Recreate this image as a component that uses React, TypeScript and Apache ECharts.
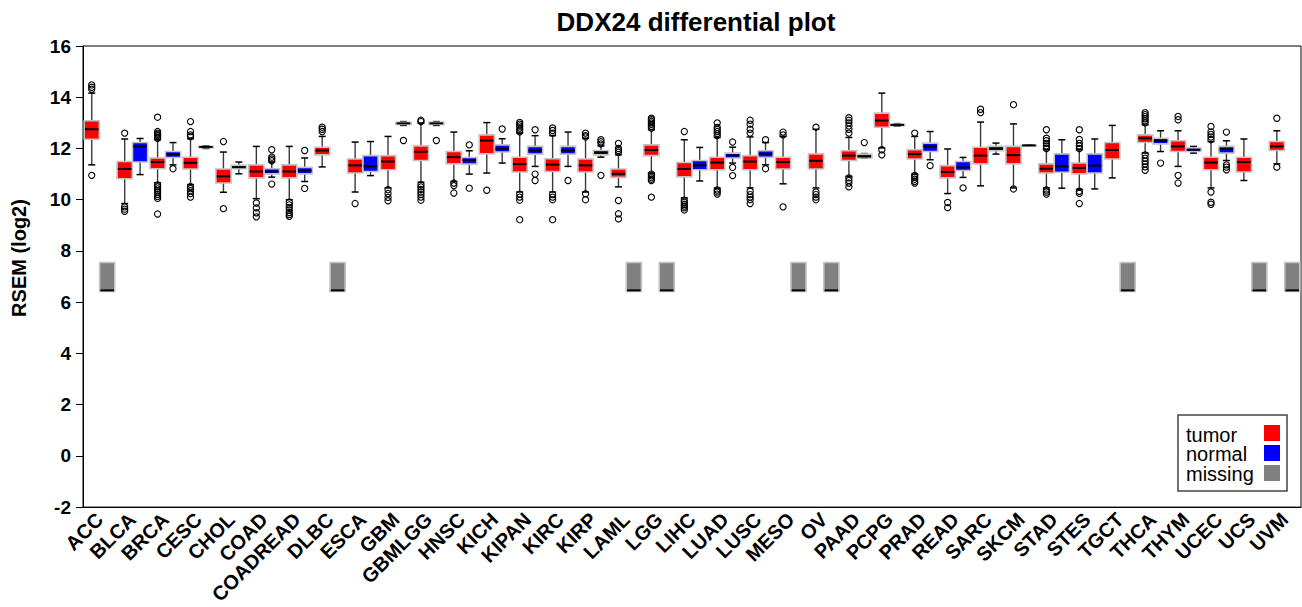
import React, { useEffect, useRef } from "react";
import * as echarts from "echarts";

const categories = [
  "ACC", "BLCA", "BRCA", "CESC", "CHOL", "COAD", "COADREAD", "DLBC", "ESCA", "GBM",
  "GBMLGG", "HNSC", "KICH", "KIPAN", "KIRC", "KIRP", "LAML", "LGG", "LIHC", "LUAD",
  "LUSC", "MESO", "OV", "PAAD", "PCPG", "PRAD", "READ", "SARC", "SKCM", "STAD",
  "STES", "TGCT", "THCA", "THYM", "UCEC", "UCS", "UVM",
];

// [lower whisker, Q1, median, Q3, upper whisker]
const tumorStats: number[][] = [
  [11.36, 12.36, 12.75, 13.08, 14.16], // ACC
  [9.85, 10.82, 11.2, 11.49, 12.37], // BLCA
  [10.66, 11.21, 11.47, 11.63, 12.34], // BRCA
  [10.59, 11.2, 11.44, 11.66, 12.38], // CESC
  [10.29, 10.65, 10.91, 11.2, 11.86], // CHOL
  [10.04, 10.85, 11.1, 11.36, 12.08], // COAD
  [10.0, 10.85, 11.1, 11.36, 12.08], // COADREAD
  [11.28, 11.75, 11.92, 12.05, 12.47], // DLBC
  [10.3, 11.04, 11.34, 11.59, 12.25], // ESCA
  [10.46, 11.17, 11.49, 11.72, 12.47], // GBM
  [10.68, 11.53, 11.87, 12.1, 12.99], // GBMLGG
  [10.71, 11.4, 11.66, 11.88, 12.64], // HNSC
  [11.04, 11.79, 12.31, 12.53, 13.01], // KICH
  [10.3, 11.08, 11.39, 11.66, 12.6], // KIPAN
  [10.3, 11.1, 11.37, 11.6, 12.5], // KIRC
  [10.3, 11.08, 11.34, 11.59, 12.4], // KIRP
  [10.5, 10.87, 11.01, 11.2, 11.75], // LAML
  [11.04, 11.72, 11.94, 12.14, 12.73], // LGG
  [10.07, 10.89, 11.2, 11.45, 12.34], // LIHC
  [10.45, 11.17, 11.45, 11.66, 12.43], // LUAD
  [10.46, 11.17, 11.49, 11.72, 12.45], // LUSC
  [10.62, 11.2, 11.47, 11.66, 12.47], // MESO
  [10.46, 11.2, 11.52, 11.79, 12.75], // OV
  [10.91, 11.53, 11.72, 11.91, 12.43], // PAAD
  [12.02, 12.83, 13.09, 13.38, 14.16], // PCPG
  [11.0, 11.59, 11.78, 11.95, 12.47], // PRAD
  [10.24, 10.85, 11.08, 11.33, 11.98], // READ
  [10.54, 11.4, 11.72, 12.05, 13.03], // SARC
  [10.46, 11.4, 11.74, 12.08, 12.96], // SKCM
  [10.46, 11.04, 11.21, 11.4, 11.95], // STAD
  [10.4, 11.01, 11.24, 11.43, 11.95], // STES
  [10.85, 11.59, 11.94, 12.23, 12.9], // TGCT
  [11.82, 12.23, 12.4, 12.53, 12.92], // THCA
  [11.3, 11.88, 12.08, 12.3, 12.69], // THYM
  [10.46, 11.17, 11.45, 11.66, 12.27], // UCEC
  [10.75, 11.08, 11.47, 11.66, 12.37], // UCS
  [11.4, 11.92, 12.08, 12.27, 12.69], // UVM
];

const tumorOutliers: number[][] = [
  [14.48, 14.39, 14.31, 10.95],
  [12.6, 9.72, 9.63, 9.55],
  [12.4, 12.45, 12.5, 12.55, 12.6, 12.66, 13.22, 10.58, 10.5, 10.42, 10.35, 10.28, 10.2, 10.12, 10.05, 9.44],
  [13.05, 12.66, 12.53, 12.46, 10.51, 10.43, 10.35, 10.24, 10.1],
  [12.27, 9.65],
  [9.87, 9.68, 9.49, 9.33],
  [9.9, 9.8, 9.7, 9.6, 9.5, 9.42, 9.35],
  [12.83, 12.75, 12.66],
  [9.85],
  [10.39, 10.24, 10.09, 9.96],
  [13.1, 13.05, 10.59, 10.5, 10.4, 10.3, 10.2, 10.1, 9.98],
  [10.65, 10.55, 10.26],
  [10.37],
  [12.65, 12.72, 12.8, 12.88, 12.95, 13.02, 10.22, 10.1, 9.98, 9.22],
  [12.6, 12.7, 12.8, 10.2, 10.1, 10.0, 9.22],
  [12.6, 12.5, 12.45, 10.23, 10.0],
  [12.2, 12.0, 11.92, 11.85, 9.97, 9.45, 9.25],
  [12.8, 12.87, 12.94, 13.0, 13.06, 13.12, 13.18, 11.0, 10.93, 10.86, 10.8, 10.75, 10.1],
  [12.66, 9.98, 9.9, 9.82, 9.75, 9.68, 9.6],
  [12.5, 12.58, 12.66, 12.74, 12.82, 13.0, 10.38, 10.3, 10.22],
  [12.6, 12.75, 12.95, 13.1, 10.33, 10.2, 10.1, 10.0, 9.85],
  [12.64, 12.53, 9.72],
  [12.83, 10.3, 10.2, 10.1, 10.0],
  [12.6, 12.75, 12.88, 13.0, 13.1, 13.2, 10.85, 10.75, 10.65, 10.5],
  [11.95, 11.75],
  [12.6, 10.95, 10.88, 10.8, 10.72, 10.65],
  [9.89, 9.69],
  [13.53, 13.4],
  [13.71, 10.42],
  [12.0, 12.1, 12.2, 12.3, 12.4, 12.73, 10.38, 10.3, 10.22],
  [12.0, 12.1, 12.2, 12.35, 12.73, 10.33, 10.25, 9.85],
  [],
  [13.0, 13.08, 13.16, 13.24, 13.32, 13.4, 11.75, 11.62, 11.5, 11.4, 11.28, 11.15],
  [13.25, 13.12, 10.95, 10.65],
  [12.35, 12.45, 12.55, 12.65, 12.86, 10.3, 9.9, 9.82],
  [],
  [13.18, 11.27],
];

// null = no normal samples (drawn as "missing")
const normalStats: (number[] | null)[] = [
  null, // ACC
  [10.98, 11.47, 12.08, 12.23, 12.39], // BLCA
  [11.36, 11.65, 11.77, 11.88, 12.23], // BRCA
  [12.0, 12.03, 12.06, 12.08, 12.1], // CESC
  [11.01, 11.21, 11.27, 11.34, 11.47], // CHOL
  [10.88, 11.01, 11.1, 11.21, 11.47], // COAD
  [10.71, 11.01, 11.14, 11.26, 11.63], // COADREAD
  null, // DLBC
  [10.94, 11.1, 11.3, 11.72, 12.27], // ESCA
  [12.9, 12.94, 12.98, 13.02, 13.05], // GBM
  [12.9, 12.94, 12.98, 13.02, 13.05], // GBMLGG
  [11.0, 11.39, 11.55, 11.65, 11.91], // HNSC
  [11.43, 11.86, 11.99, 12.14, 12.38], // KICH
  [11.3, 11.78, 11.92, 12.08, 12.5], // KIPAN
  [11.3, 11.78, 11.92, 12.08, 12.64], // KIRC
  [11.66, 11.75, 11.84, 11.92, 12.1], // KIRP
  null, // LAML
  null, // LGG
  [10.73, 11.17, 11.34, 11.53, 12.04], // LIHC
  [11.43, 11.63, 11.73, 11.82, 12.05], // LUAD
  [11.36, 11.66, 11.79, 11.91, 12.23], // LUSC
  null, // MESO
  null, // OV
  [11.62, 11.63, 11.69, 11.78, 11.8], // PAAD
  [12.87, 12.89, 12.92, 12.95, 12.97], // PCPG
  [11.56, 11.88, 12.08, 12.21, 12.66], // PRAD
  [10.87, 11.14, 11.26, 11.49, 11.65], // READ
  [11.78, 11.91, 12.0, 12.08, 12.21], // SARC
  [12.1, 12.11, 12.12, 12.13, 12.14], // SKCM
  [10.45, 11.07, 11.3, 11.79, 12.34], // STAD
  [10.42, 11.04, 11.33, 11.79, 12.37], // STES
  null, // TGCT
  [11.88, 12.18, 12.3, 12.4, 12.69], // THCA
  [11.82, 11.88, 11.95, 12.02, 12.08], // THYM
  [11.53, 11.82, 11.98, 12.08, 12.3], // UCEC
  null, // UCS
  null, // UVM
];

const normalOutliers: number[][] = [
  [], [], [11.21], [], [], [11.95, 11.66, 11.59, 11.52, 10.61], [11.92, 10.44], [], [],
  [12.31], [12.31], [12.14, 10.45], [12.76], [12.73, 11.0, 10.75], [10.75],
  [12.18, 12.26, 12.34, 10.95], [], [], [], [12.25, 11.26, 10.94], [12.34, 11.21], [], [],
  [12.23], [], [11.33], [10.46], [], [], [], [], [], [11.43], [], [12.64, 11.36, 11.27, 11.17],
  [], [],
];

// placeholder box drawn where normal samples are missing
const missingBox = [6.42, 6.42, 6.46, 7.55, 7.55];

const legendItems = ["tumor", "normal", "missing"];
const legendColors = ["#ff0000", "#0000ff", "#808080"];

const FONT = "'Liberation Sans', Arial, Helvetica, sans-serif";
const SIDE_OFFSET = 0.234;
const BOX_FRAC = 0.46;

function makeBoxRenderer(side: number, fill: string, whiskers: boolean) {
  return (_params: any, api: any) => {
    const i = api.value(0);
    const band = api.size([1, 0])[0];
    const off = side * band * SIDE_OFFSET;
    const bw = band * BOX_FRAC;
    const pLow = api.coord([i, api.value(1)]);
    const pQ1 = api.coord([i, api.value(2)]);
    const pMed = api.coord([i, api.value(3)]);
    const pQ3 = api.coord([i, api.value(4)]);
    const pHigh = api.coord([i, api.value(5)]);
    const cx = pLow[0] + off;
    const x0 = cx - bw / 2;
    const capHalf = 3.5;
    const children: any[] = [];
    if (whiskers) {
      const wStyle = { stroke: "#3a3a3a", lineWidth: 1.4 };
      const cStyle = { stroke: "#000", lineWidth: 1.5 };
      children.push(
        { type: "line", shape: { x1: cx, y1: pHigh[1], x2: cx, y2: pQ3[1] }, style: wStyle },
        { type: "line", shape: { x1: cx, y1: pQ1[1], x2: cx, y2: pLow[1] }, style: wStyle },
        { type: "line", shape: { x1: cx - capHalf, y1: pHigh[1], x2: cx + capHalf, y2: pHigh[1] }, style: cStyle },
        { type: "line", shape: { x1: cx - capHalf, y1: pLow[1], x2: cx + capHalf, y2: pLow[1] }, style: cStyle }
      );
    }
    children.push(
      {
        type: "rect",
        shape: { x: x0, y: pQ3[1], width: bw, height: Math.max(1, pQ1[1] - pQ3[1]) },
        style: { fill, stroke: "#c4c4c4", lineWidth: 1.6 },
      },
      {
        type: "line",
        shape: { x1: x0 + 0.8, y1: pMed[1], x2: x0 + bw - 0.8, y2: pMed[1] },
        style: { stroke: "#000", lineWidth: 2 },
      }
    );
    return { type: "group", children };
  };
}

function makeOutlierRenderer(side: number) {
  return (_params: any, api: any) => {
    const band = api.size([1, 0])[0];
    const p = api.coord([api.value(0), api.value(1)]);
    return {
      type: "circle",
      shape: { cx: p[0] + side * band * SIDE_OFFSET, cy: p[1], r: 3.1 },
      style: { fill: "none", stroke: "#000", lineWidth: 1.1 },
    };
  };
}

export default function App() {
  const ref = useRef<HTMLDivElement>(null);

  useEffect(() => {
    document.body.style.margin = "0";
    if (!ref.current) return;
    const chart = echarts.init(ref.current, undefined, { renderer: "svg" });

    const tumorData = tumorStats.map((s, i) => [i, ...s]);
    const normalData: number[][] = [];
    const missingData: number[][] = [];
    normalStats.forEach((s, i) => {
      if (s) normalData.push([i, ...s]);
      else missingData.push([i, ...missingBox]);
    });
    const tumorOut: number[][] = [];
    tumorOutliers.forEach((arr, i) => arr.forEach((v) => tumorOut.push([i, v])));
    const normalOut: number[][] = [];
    normalOutliers.forEach((arr, i) => arr.forEach((v) => normalOut.push([i, v])));

    const legendX = 1178;
    const legendY = 415;

    chart.setOption({
      animation: false,
      backgroundColor: "#fff",
      title: {
        text: "DDX24 differential plot",
        left: 691,
        textAlign: "center",
        top: 4,
        textStyle: { fontFamily: FONT, fontWeight: "bold", fontSize: 26, color: "#000" },
      },
      grid: {
        left: 83,
        right: 1,
        top: 46,
        bottom: 99,
        show: true,
        borderColor: "#000",
        borderWidth: 1,
        backgroundColor: "transparent",
      },
      xAxis: {
        type: "category",
        data: categories,
        boundaryGap: true,
        axisLine: { onZero: false, lineStyle: { color: "#000", width: 1 } },
        axisTick: { alignWithLabel: true, length: 6, lineStyle: { color: "#000" } },
        axisLabel: {
          interval: 0,
          rotate: 45,
          margin: 9,
          fontFamily: FONT,
          fontWeight: "bold",
          fontSize: 20,
          color: "#000",
        },
        splitLine: { show: false },
      },
      yAxis: {
        type: "value",
        min: -2,
        max: 16,
        interval: 2,
        axisLine: { show: true, lineStyle: { color: "#000", width: 1 } },
        axisTick: { show: true, length: 7, lineStyle: { color: "#000" } },
        axisLabel: { margin: 12, fontFamily: FONT, fontWeight: "bold", fontSize: 19, color: "#000" },
        splitLine: { show: false },
      },
      series: [
        {
          name: "missing",
          type: "custom",
          renderItem: makeBoxRenderer(1, "#808080", false),
          encode: { x: 0, y: [1, 2, 3, 4, 5] },
          data: missingData,
          z: 2,
        },
        {
          name: "tumor",
          type: "custom",
          renderItem: makeBoxRenderer(-1, "#ff0000", true),
          encode: { x: 0, y: [1, 2, 3, 4, 5] },
          data: tumorData,
          z: 2,
        },
        {
          name: "normal",
          type: "custom",
          renderItem: makeBoxRenderer(1, "#0000ff", true),
          encode: { x: 0, y: [1, 2, 3, 4, 5] },
          data: normalData,
          z: 2,
        },
        {
          name: "tumor outliers",
          type: "custom",
          renderItem: makeOutlierRenderer(-1),
          encode: { x: 0, y: 1 },
          data: tumorOut,
          z: 3,
        },
        {
          name: "normal outliers",
          type: "custom",
          renderItem: makeOutlierRenderer(1),
          encode: { x: 0, y: 1 },
          data: normalOut,
          z: 3,
        },
      ],
      graphic: [
        {
          type: "text",
          x: 19,
          y: 258,
          rotation: Math.PI / 2,
          style: {
            text: "RSEM (log2)",
            fill: "#000",
            fontFamily: FONT,
            fontWeight: "bold",
            fontSize: 20,
            align: "center",
            verticalAlign: "middle",
          },
        },
        {
          type: "rect",
          shape: { x: legendX, y: legendY, width: 109, height: 76 },
          style: { fill: "#fff", stroke: "#444", lineWidth: 1.5 },
          z: 10,
        },
        ...legendItems.map((t, k) => ({
          type: "text",
          x: legendX + 8,
          y: legendY + 19.5 + k * 19.5,
          style: {
            text: t,
            fill: "#000",
            fontFamily: FONT,
            fontSize: 20,
            lineHeight: 19,
            verticalAlign: "middle",
            align: "left",
          },
          z: 11,
        })),
        ...legendColors.map((c, k) => ({
          type: "rect",
          shape: { x: legendX + 86, y: legendY + 10 + k * 20, width: 16, height: 16 },
          style: { fill: c },
          z: 11,
        })),
      ],
    });

    return () => chart.dispose();
  }, []);

  return <div ref={ref} style={{ width: 1302, height: 607 }} />;
}
